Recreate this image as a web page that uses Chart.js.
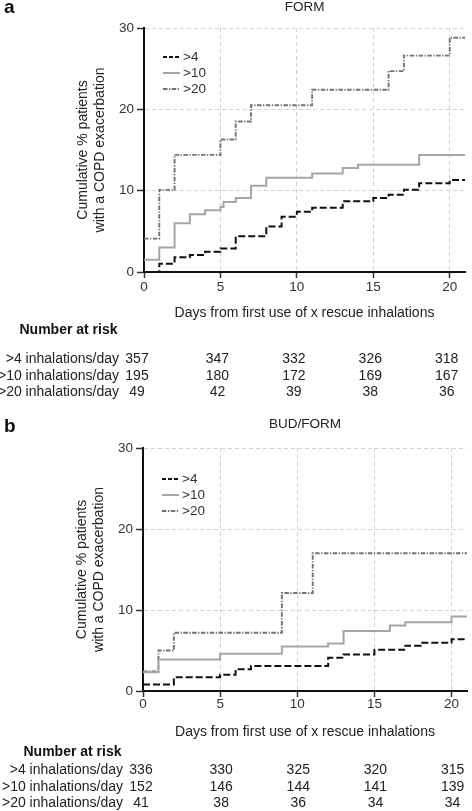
<!doctype html>
<html lang="en">
<head>
<meta charset="utf-8">
<title>Cumulative COPD exacerbations by rescue inhalations</title>
<script src="https://cdn.jsdelivr.net/npm/chart.js"></script>
<style>
  body { margin: 0; background: #fff; }
  canvas { display: block; }
</style>
</head>
<body>
<canvas id="form" width="472" height="405"></canvas>
<canvas id="budform" width="472" height="406"></canvas>
<script>
// ---- values ----
const seriesLabels = ['>4', '>10', '>20'];
const riskLabels = ['>4 inhalations/day', '>10 inhalations/day', '>20 inhalations/day'];
const riskDays = [0, 5, 10, 15, 20];

// panel a: FORM
const formDays4 = [0, 1, 2, 3, 4, 5, 6, 8, 9, 10, 11, 13, 15, 16, 17, 18, 20, 21];
const formPct4  = [0, 1.0, 1.8, 2.1, 2.5, 2.9, 4.4, 5.6, 6.8, 7.4, 7.9, 8.7, 9.1, 9.5, 10.1, 10.9, 11.3, 11.3];
const formDays10 = [0, 1, 2, 3, 4, 5, 5.2, 6, 7, 8, 11, 13, 14, 18, 21];
const formPct10  = [1.5, 3.0, 6.0, 7.1, 7.6, 8.0, 8.6, 9.1, 10.6, 11.6, 12.1, 12.8, 13.2, 14.4, 14.4];
const formDays20 = [0, 1, 2, 5, 6, 7, 11, 16, 17, 20, 21];
const formPct20  = [4.1, 10.1, 14.4, 16.3, 18.5, 20.5, 22.4, 24.7, 26.6, 28.8, 28.8];
const formRisk4  = [357, 347, 332, 326, 318];
const formRisk10 = [195, 180, 172, 169, 167];
const formRisk20 = [49, 42, 39, 38, 36];

// panel b: BUD/FORM
const budDays4 = [0, 2, 5, 6, 7, 12, 13, 15, 17, 18, 20, 21];
const budPct4  = [0.8, 1.7, 2.0, 2.7, 3.1, 4.1, 4.5, 5.1, 5.6, 5.95, 6.4, 6.4];
const budDays10 = [0, 1, 5, 9, 12, 13, 16, 17, 20, 21];
const budPct10  = [2.3, 3.9, 4.6, 5.5, 5.85, 7.4, 8.1, 8.5, 9.2, 9.2];
const budDays20 = [0, 1, 2, 9, 11, 21];
const budPct20  = [2.4, 5.0, 7.2, 12.1, 17.0, 17.0];
const budRisk4  = [336, 330, 325, 320, 315];
const budRisk10 = [152, 146, 144, 141, 139];
const budRisk20 = [41, 38, 36, 34, 34];

const FONT = '"Liberation Sans", Arial, Helvetica, sans-serif';
Chart.defaults.font.family = FONT;

function pts(days, pct) {
  return days.map((d, i) => ({ x: d, y: pct[i] }));
}

function datasets(d4, p4, d10, p10, d20, p20) {
  return [
    { label: seriesLabels[0], data: pts(d4, p4), borderColor: '#111', borderWidth: 2,
      borderDash: [7, 3], legendDash: [4, 2] },
    { label: seriesLabels[1], data: pts(d10, p10), borderColor: '#a6a6a6', borderWidth: 2,
      borderDash: [], legendDash: [] },
    { label: seriesLabels[2], data: pts(d20, p20), borderColor: '#727272', borderWidth: 1.9,
      borderDash: [4.5, 1.5, 1.3, 1.5], legendDash: [4.5, 1.5, 1.3, 1.5] }
  ];
}

// text, legend and number-at-risk table
const panelText = {
  id: 'panelText',
  afterDraw(chart, args, o) {
    const ctx = chart.ctx, area = chart.chartArea, xs = chart.scales.x;
    ctx.save();
    ctx.fillStyle = '#111';
    ctx.font = 'bold 19px ' + FONT;
    ctx.textAlign = 'left';
    ctx.textBaseline = 'alphabetic';
    ctx.fillText(o.letter, 4, o.letterY);

    ctx.textBaseline = 'middle';
    ctx.font = '13.5px ' + FONT;
    ctx.fillStyle = '#222';
    ctx.textAlign = 'center';
    ctx.fillText(o.title, (area.left + area.right) / 2, o.titleY);

    // legend
    chart.data.datasets.forEach((ds, i) => {
      const y = area.top + o.legendTop + i * 16;
      ctx.beginPath();
      ctx.strokeStyle = ds.borderColor;
      ctx.lineWidth = ds.borderWidth;
      ctx.setLineDash(ds.legendDash);
      ctx.moveTo(area.left + 19, y);
      ctx.lineTo(area.left + 36, y);
      ctx.stroke();
      ctx.setLineDash([]);
      ctx.textAlign = 'left';
      ctx.fillStyle = '#333';
      ctx.fillText(ds.label, area.left + 39, y);
    });

    // number at risk
    ctx.fillStyle = '#111';
    ctx.font = 'bold 14px ' + FONT;
    ctx.textAlign = 'left';
    ctx.fillText('Number at risk', o.tableLeft, o.riskTitleY);
    ctx.font = '14px ' + FONT;
    ctx.fillStyle = '#222';
    o.risk.forEach((row, r) => {
      const y = o.riskY[r];
      ctx.textAlign = 'right';
      ctx.fillText(riskLabels[r], o.labelRight, y);
      ctx.textAlign = 'center';
      row.forEach((n, k) => {
        const x = xs.getPixelForValue(riskDays[k]) + (k === 0 ? o.firstDx : o.dx);
        ctx.fillText(String(n), x, y);
      });
    });
    ctx.restore();
  }
};

function panelOptions(p) {
  return {
    responsive: false,
    animation: false,
    layout: { padding: p.padding },
    elements: { point: { radius: 0 }, line: { stepped: 'before', fill: false, borderCapStyle: 'butt' } },
    plugins: { legend: { display: false }, tooltip: { enabled: false }, panelText: p },
    scales: {
      x: {
        type: 'linear', min: 0, max: 21,
        afterFit: s => { s.height = 50; },
        ticks: { stepSize: 5, includeBounds: false, padding: p.xTickPad, color: '#333', font: { size: 13.5 } },
        grid: {
          color: c => c.tick && c.tick.value === 0 ? 'rgba(0,0,0,0)' : '#d2d2d2',
          lineWidth: 1, tickLength: 6, tickColor: '#333', tickWidth: 1.5
        },
        border: { color: '#111', width: 2, dash: [4, 3] },
        title: { display: true, text: 'Days from first use of x rescue inhalations',
                 color: '#222', font: { size: 14 }, padding: 0 }
      },
      y: {
        min: 0, max: 30,
        afterFit: s => { s.width = p.yWidth; },
        ticks: { stepSize: 10, padding: 3, color: '#333', font: { size: 13.5 } },
        grid: {
          color: c => c.tick && c.tick.value === 0 ? 'rgba(0,0,0,0)' : '#d2d2d2',
          lineWidth: 1, tickLength: 7, tickColor: '#333', tickWidth: 1.5
        },
        border: { color: '#111', width: 2, dash: [4, 3] },
        title: { display: true, text: ['Cumulative % patients', 'with a COPD exacerbation'],
                 color: '#222', font: { size: 14 }, padding: 0 }
      }
    }
  };
}

//---------------- FORM ----------------
new Chart(document.getElementById('form'), {
  type: 'line',
  data: { datasets: datasets(formDays4, formPct4, formDays10, formPct10, formDays20, formPct20) },
  options: panelOptions({
    padding: { left: 75, right: 7, top: 28, bottom: 83 },
    yWidth: 69, xTickPad: 1,
    letter: 'a', letterY: 13, title: 'FORM', titleY: 7.5,
    legendTop: 29,
    tableLeft: 19.5, labelRight: 119, riskTitleY: 330.5, riskY: [359.5, 376, 392],
    firstDx: -7, dx: -3,
    risk: [formRisk4, formRisk10, formRisk20]
  }),
  plugins: [panelText]
});

//---------------- BUD/FORM ----------------
new Chart(document.getElementById('budform'), {
  type: 'line',
  data: { datasets: datasets(budDays4, budPct4, budDays10, budPct10, budDays20, budPct20) },
  options: panelOptions({
    padding: { left: 74, right: 5, top: 43, bottom: 70 },
    yWidth: 69, xTickPad: -1,
    letter: 'b', letterY: 27, title: 'BUD/FORM', titleY: 19.5,
    legendTop: 31,
    tableLeft: 23.5, labelRight: 123, riskTitleY: 347.3, riskY: [365, 381.7, 397.7],
    firstDx: -2, dx: 1,
    risk: [budRisk4, budRisk10, budRisk20]
  }),
  plugins: [panelText]
});
</script>
</body>
</html>
